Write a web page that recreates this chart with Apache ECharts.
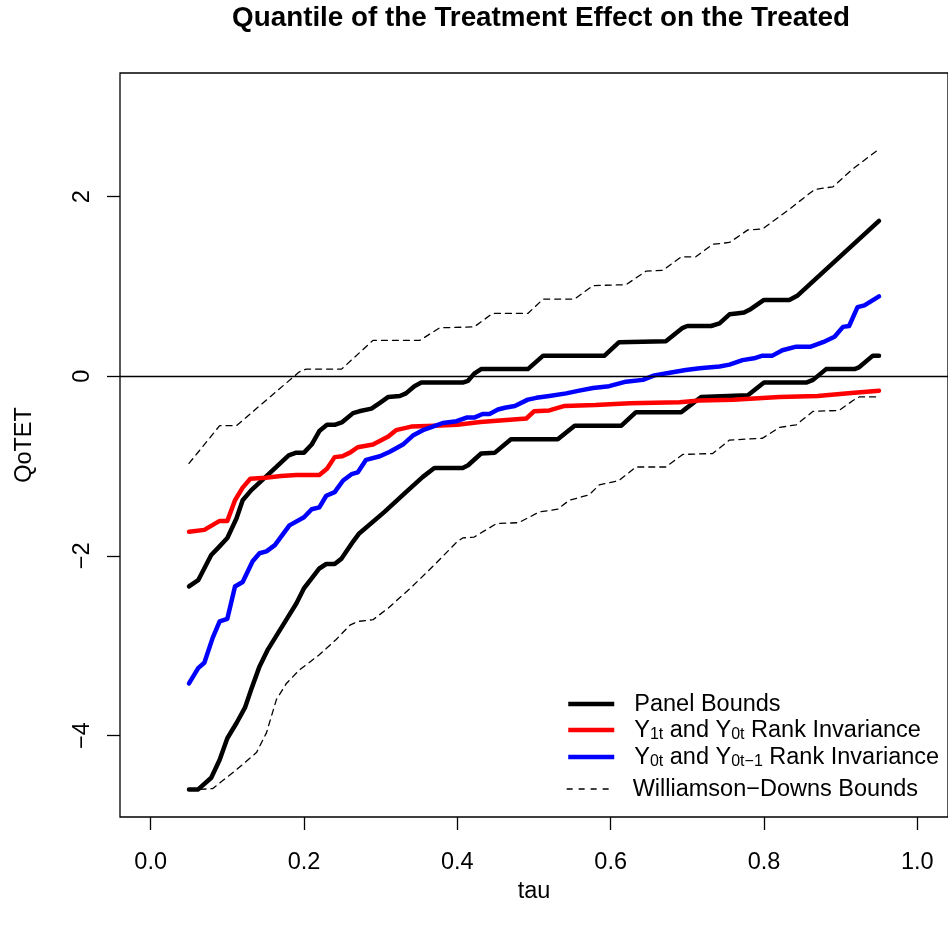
<!DOCTYPE html>
<html><head><meta charset="utf-8">
<script src="https://cdn.jsdelivr.net/npm/echarts@6/dist/echarts.min.js"></script>
<style>html,body{margin:0;padding:0;background:#fff}#c{width:948px;height:934px}</style>
</head><body><div id="c"></div>
<script>
// ---- data (tau, QoTET) ----
const xTicks = [0, 0.2, 0.4, 0.6, 0.8, 1.0];
const yTicks = [-4, -2, 0, 2];
const NAME_PANEL = 'Panel Bounds';
const NAME_RED = 'Y1t and Y0t Rank Invariance';
const NAME_BLUE = 'Y0t and Y0t\u22121 Rank Invariance';
const NAME_WD = 'Williamson\u2212Downs Bounds';

const panelUpper = [[0.05,-2.34],[0.062,-2.27],[0.079,-1.99],[0.088,-1.91],[0.10,-1.80],[0.112,-1.58],[0.12,-1.38],[0.131,-1.27],[0.15,-1.12],[0.18,-0.88],[0.19,-0.85],[0.20,-0.85],[0.21,-0.76],[0.22,-0.61],[0.23,-0.54],[0.24,-0.54],[0.25,-0.51],[0.264,-0.41],[0.272,-0.39],[0.288,-0.36],[0.30,-0.29],[0.31,-0.23],[0.325,-0.22],[0.333,-0.19],[0.344,-0.11],[0.353,-0.07],[0.407,-0.07],[0.414,-0.05],[0.422,0.03],[0.431,0.08],[0.492,0.08],[0.512,0.23],[0.592,0.23],[0.611,0.38],[0.672,0.39],[0.694,0.54],[0.70,0.56],[0.731,0.56],[0.742,0.59],[0.755,0.69],[0.764,0.70],[0.774,0.71],[0.783,0.75],[0.80,0.85],[0.833,0.85],[0.844,0.90],[0.95,1.73]];

const panelLower = [[0.05,-4.6],[0.062,-4.6],[0.079,-4.47],[0.09,-4.27],[0.10,-4.03],[0.112,-3.86],[0.123,-3.69],[0.131,-3.49],[0.142,-3.23],[0.153,-3.04],[0.177,-2.71],[0.19,-2.53],[0.20,-2.36],[0.21,-2.25],[0.22,-2.14],[0.229,-2.09],[0.24,-2.09],[0.249,-2.03],[0.264,-1.84],[0.272,-1.75],[0.305,-1.51],[0.333,-1.29],[0.355,-1.12],[0.37,-1.02],[0.407,-1.02],[0.414,-0.99],[0.431,-0.86],[0.449,-0.85],[0.47,-0.70],[0.531,-0.70],[0.553,-0.55],[0.614,-0.55],[0.633,-0.40],[0.692,-0.40],[0.698,-0.36],[0.718,-0.23],[0.779,-0.21],[0.80,-0.07],[0.855,-0.07],[0.864,-0.04],[0.881,0.08],[0.918,0.08],[0.924,0.10],[0.942,0.23],[0.95,0.23]];

const rankY1Y0 = [[0.05,-1.73],[0.07,-1.71],[0.08,-1.66],[0.09,-1.61],[0.10,-1.61],[0.11,-1.38],[0.12,-1.24],[0.13,-1.14],[0.15,-1.13],[0.17,-1.11],[0.19,-1.10],[0.22,-1.10],[0.23,-1.03],[0.24,-0.90],[0.25,-0.89],[0.26,-0.85],[0.27,-0.79],[0.29,-0.76],[0.31,-0.67],[0.32,-0.60],[0.34,-0.56],[0.37,-0.55],[0.40,-0.54],[0.43,-0.51],[0.49,-0.47],[0.50,-0.39],[0.52,-0.38],[0.54,-0.33],[0.58,-0.32],[0.625,-0.30],[0.69,-0.29],[0.716,-0.27],[0.76,-0.26],[0.82,-0.23],[0.87,-0.22],[0.91,-0.19],[0.95,-0.16]];

const rankY0Y0lag = [[0.05,-3.42],[0.062,-3.25],[0.07,-3.19],[0.081,-2.91],[0.09,-2.73],[0.10,-2.70],[0.11,-2.34],[0.12,-2.29],[0.133,-2.06],[0.142,-1.97],[0.151,-1.95],[0.162,-1.88],[0.181,-1.66],[0.20,-1.57],[0.21,-1.48],[0.22,-1.46],[0.229,-1.33],[0.24,-1.29],[0.251,-1.16],[0.262,-1.09],[0.27,-1.07],[0.281,-0.93],[0.299,-0.89],[0.312,-0.84],[0.329,-0.76],[0.342,-0.66],[0.355,-0.60],[0.368,-0.56],[0.381,-0.52],[0.399,-0.50],[0.412,-0.46],[0.422,-0.46],[0.433,-0.42],[0.442,-0.42],[0.453,-0.37],[0.462,-0.35],[0.475,-0.33],[0.492,-0.26],[0.503,-0.24],[0.52,-0.22],[0.542,-0.19],[0.559,-0.16],[0.577,-0.13],[0.598,-0.11],[0.62,-0.06],[0.642,-0.04],[0.657,0.01],[0.677,0.04],[0.698,0.07],[0.716,0.09],[0.742,0.11],[0.755,0.13],[0.772,0.18],[0.787,0.20],[0.798,0.23],[0.811,0.23],[0.824,0.29],[0.842,0.33],[0.861,0.33],[0.877,0.38],[0.892,0.44],[0.903,0.55],[0.911,0.56],[0.922,0.77],[0.931,0.79],[0.95,0.89]];

const wdUpper = [[0.05,-0.97],[0.09,-0.55],[0.112,-0.55],[0.146,-0.30],[0.194,0.05],[0.203,0.08],[0.249,0.08],[0.29,0.40],[0.351,0.40],[0.377,0.54],[0.422,0.55],[0.446,0.70],[0.492,0.70],[0.512,0.86],[0.553,0.86],[0.577,1.01],[0.62,1.02],[0.646,1.17],[0.668,1.18],[0.692,1.33],[0.711,1.33],[0.733,1.47],[0.755,1.49],[0.779,1.63],[0.798,1.64],[0.833,1.86],[0.866,2.08],[0.89,2.11],[0.916,2.31],[0.95,2.53]];

const wdLower = [[0.05,-4.6],[0.064,-4.6],[0.081,-4.59],[0.112,-4.38],[0.138,-4.19],[0.151,-3.97],[0.164,-3.60],[0.177,-3.42],[0.194,-3.27],[0.22,-3.10],[0.242,-2.93],[0.26,-2.77],[0.27,-2.73],[0.29,-2.71],[0.31,-2.58],[0.34,-2.35],[0.37,-2.10],[0.40,-1.84],[0.407,-1.80],[0.422,-1.79],[0.451,-1.64],[0.48,-1.63],[0.507,-1.51],[0.531,-1.48],[0.546,-1.38],[0.572,-1.32],[0.585,-1.21],[0.611,-1.16],[0.633,-1.01],[0.672,-1.01],[0.694,-0.87],[0.733,-0.86],[0.755,-0.71],[0.798,-0.69],[0.82,-0.57],[0.842,-0.54],[0.864,-0.39],[0.898,-0.38],[0.916,-0.27],[0.924,-0.23],[0.95,-0.23]];

// ---- chart ----
const FONT = '"Liberation Sans", Arial, Helvetica, sans-serif';
const FS = 23.5;
const chart = echarts.init(document.getElementById('c'), null, {renderer: 'canvas'});

function minusFmt(v) { return v < 0 ? '\u2212' + Math.abs(v) : String(v); }

function lineSeries(name, data, color, width, dashed, z) {
  return {
    name: name, type: 'line', data: data, symbol: 'none', showSymbol: false, z: z,
    lineStyle: {color: color, width: width, type: dashed ? [6, 5] : 'solid', cap: 'round', join: 'round'},
    itemStyle: {color: color},
    emphasis: {disabled: true}, silent: true
  };
}

const legendFormatter = function (name) {
  if (name === NAME_RED) return '{n|Y}{s|1t}{n| and Y}{s|0t}{n| Rank Invariance}';
  if (name === NAME_BLUE) return '{n|Y}{s|0t}{n| and Y}{s|0t\u22121}{n| Rank Invariance}';
  return '{n|' + name + '}';
};
const legendText = {
  fontFamily: FONT, fontSize: FS, color: '#000', padding: [0, 0, 0, 15],
  rich: {
    n: {fontFamily: FONT, fontSize: FS, color: '#000', lineHeight: 26, verticalAlign: 'bottom'},
    s: {fontFamily: FONT, fontSize: 16, color: '#000', lineHeight: 14, verticalAlign: 'bottom'}
  }
};
function legendRow(name, centerY, lw, dashed) {
  return {
    data: [name], left: 566, top: centerY - 13, orient: 'vertical', padding: 0,
    itemWidth: 46, itemHeight: 14, formatter: legendFormatter, textStyle: legendText,
    selectedMode: false,
    itemStyle: {opacity: 0},
    lineStyle: {width: lw, type: dashed ? [6, 6] : 'solid', cap: 'butt'}
  };
}

const zeroLine = {
  silent: true, symbol: ['none', 'none'], label: {show: false},
  lineStyle: {color: '#000', width: 1.3, type: 'solid'},
  data: [{yAxis: 0}], animation: false
};

const s1 = lineSeries(NAME_PANEL, panelUpper, '#000000', 4.5, false, 2);
s1.markLine = zeroLine;

const option = {
  animation: false,
  backgroundColor: '#ffffff',
  title: {
    text: 'Quantile of the Treatment Effect on the Treated',
    left: 536, top: -1, textAlign: 'center',
    textStyle: {fontFamily: FONT, fontWeight: 'bold', fontSize: 27.8, color: '#000'}
  },
  grid: {left: 120, top: 73, width: 829, height: 744, show: true, borderColor: '#000', borderWidth: 1.3, containLabel: false},
  xAxis: {
    type: 'value', min: -0.04, max: 1.04,
    name: 'tau', nameLocation: 'middle', nameGap: 50,
    nameTextStyle: {fontFamily: FONT, fontSize: FS, color: '#000'},
    axisLine: {show: false, onZero: false}, splitLine: {show: false},
    axisTick: {show: true, inside: false, length: 13, customValues: xTicks, lineStyle: {color: '#000', width: 1.3}},
    axisLabel: {customValues: xTicks, formatter: v => v.toFixed(1), margin: 34, fontFamily: FONT, fontSize: FS, color: '#000'}
  },
  yAxis: {
    type: 'value', min: -4.907, max: 3.377,
    name: 'QoTET', nameLocation: 'middle', nameGap: 83,
    nameTextStyle: {fontFamily: FONT, fontSize: FS, color: '#000'},
    axisLine: {show: false, onZero: false}, splitLine: {show: false},
    axisTick: {show: true, inside: false, length: 13, customValues: yTicks, lineStyle: {color: '#000', width: 1.3}},
    axisLabel: {customValues: yTicks, formatter: minusFmt, rotate: 90, margin: 25, fontFamily: FONT, fontSize: FS, color: '#000'}
  },
  legend: [
    legendRow(NAME_PANEL, 706, 4.5, false),
    legendRow(NAME_RED, 732, 4.5, false),
    legendRow(NAME_BLUE, 759, 4.5, false),
    legendRow(NAME_WD, 791, 1.3, true)
  ],
  series: [
    s1,
    lineSeries(NAME_PANEL, panelLower, '#000000', 4.5, false, 2),
    lineSeries(NAME_RED, rankY1Y0, '#FF0000', 4.5, false, 3),
    lineSeries(NAME_BLUE, rankY0Y0lag, '#0000FF', 4.5, false, 4),
    lineSeries(NAME_WD, wdUpper, '#000000', 1.3, true, 5),
    lineSeries(NAME_WD, wdLower, '#000000', 1.3, true, 5)
  ]
};
chart.setOption(option);
</script></body></html>
